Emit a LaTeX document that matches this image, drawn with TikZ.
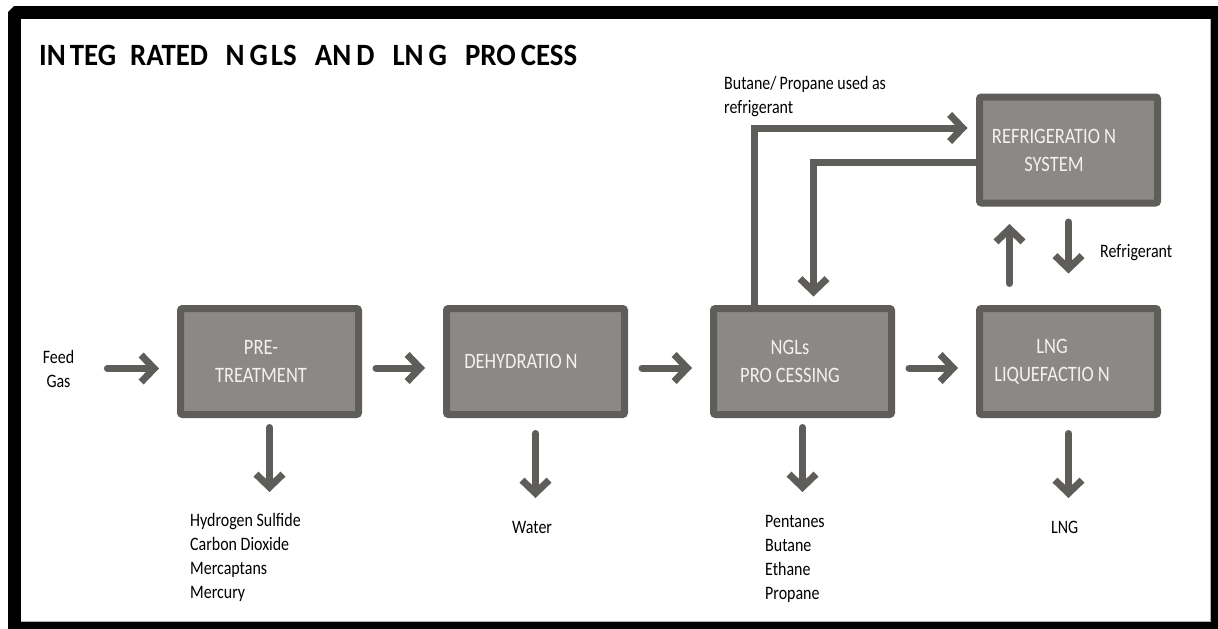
\documentclass[tikz,border=0pt]{standalone}
\usepackage{fontspec}
\setmainfont{Carlito}
\newfontfamily\bodyfont[FakeStretch=0.84]{Carlito}
\newfontfamily\ttlfont[FakeStretch=0.93]{Carlito}
\usetikzlibrary{arrows.meta}
\definecolor{boxfill}{RGB}{139,136,134}
\definecolor{boxline}{RGB}{94,93,89}
\definecolor{boxtext}{RGB}{242,242,242}
\newcommand\gp{\kern4pt}
\begin{document}
\begin{tikzpicture}[x=1pt,y=-1pt,
  stage/.style={draw=boxline, fill=boxfill, line width=7pt, rounded corners=2pt,
    minimum width=178pt, minimum height=106pt, inner sep=0pt},
  stagetxt/.style={text=boxtext, font=\bodyfont\fontsize{22}{28}\selectfont, align=center, inner sep=0pt},
  lab/.style={font=\bodyfont\fontsize{19}{24}\selectfont, align=left, inner sep=0pt, text=black},
  arr/.style={draw=boxline, line width=7pt, line cap=round, -{Straight Barb[length=13pt,width=27pt]}},
]
\useasboundingbox (0,0) rectangle (1218,629);
% frame
\fill[black] (8,12) -- (14,6) -- (1218,6) -- (1218,629) -- (8,629) -- cycle;
\fill[white] (21,19) rectangle (1210,621);
\draw[gray!60, line width=1pt] (1210,19) -- (1210,621) -- (21,621);

% title
\node[anchor=base west, inner sep=0pt, font=\ttlfont\bfseries\fontsize{31}{36}\selectfont] (title) at (39,65)
  {IN\kern4pt TEG\kern14pt RATED \kern11pt N\kern5pt G\kern3pt LS \kern11.5pt AN\kern5pt D \kern11.5pt LN\kern5pt G \kern11.5pt PRO\kern5pt CESS};

% stages
\node[stage, label={[stagetxt, xshift=-8.5pt]center:PRE-\\TREATMENT}] (pre) at (269.5,361.5) {};
\node[stage, label={[stagetxt, xshift=-14.5pt]center:DEHYDRATIO\gp N}] (deh) at (535.5,361.5) {};
\node[stage, label={[stagetxt, xshift=-12.5pt]center:NGLs\\PRO\gp CESSING}] (ngl) at (802.5,361.5) {};
\node[stage, label={[stagetxt, xshift=-16.5pt]center:LNG\\LIQUEFACTIO\gp N}] (lng) at (1068.5,361.5) {};
\node[stage, label={[stagetxt, xshift=-14.5pt]center:REFRIGERATIO\gp N\\SYSTEM}] (ref) at (1068.5,150) {};

% labels
\node[lab, align=center] (feed) at (58.5,368.5) {Feed\\Gas};
\node[lab, anchor=north west] (hs) at (190,513.5) {Hydrogen Sulfide\\Carbon Dioxide\\Mercaptans\\Mercury};
\node[lab, anchor=north west] (water) at (512,521) {Water};
\node[lab, anchor=north west] (pent) at (765,515) {Pentanes\\Butane\\Ethane\\Propane};
\node[lab, anchor=north west] (lngout) at (1051,521) {LNG};
\node[lab, anchor=north west] (but) at (724,76) {Butane/\kern3pt Propane used as\\refrigerant};
\node[lab, anchor=base west] (refl) at (1100,257) {Refrigerant};

% main flow
\draw[arr, shorten <=33pt, shorten >=18pt] (feed.east) -- (feed.east -| pre.west);
\draw[arr, shorten <=14pt, shorten >=18pt] ([yshift=-6.5pt]pre.east) -- ([yshift=-6.5pt]deh.west);
\draw[arr, shorten <=14pt, shorten >=18pt] ([yshift=-6.5pt]deh.east) -- ([yshift=-6.5pt]ngl.west);
\draw[arr, shorten <=14pt, shorten >=18pt] ([yshift=-6.5pt]ngl.east) -- ([yshift=-6.5pt]lng.west);

% outputs
\draw[arr, shorten <=9.5pt, shorten >=21.5pt] (pre.south) -- (pre.south |- hs.north);
\draw[arr, shorten <=15.5pt, shorten >=23pt] (deh.south) -- (deh.south |- water.north);
\draw[arr, shorten <=9.5pt, shorten >=23pt] (ngl.south) -- (ngl.south |- pent.north);
\draw[arr, shorten <=15.5pt, shorten >=23pt] (lng.south) -- (lng.south |- lngout.north);

% refrigeration loop
\draw[arr, line cap=butt, shorten >=8.5pt] ([xshift=44.5pt]ngl.north west) |- ([yshift=22pt]ref.west);
\draw[arr, line cap=butt, shorten >=8.5pt] ([yshift=-12pt]ref.west) -| ([xshift=103.5pt]ngl.north west);
\draw[arr, shorten <=21.5pt, shorten >=17.5pt] ([xshift=33.5pt]lng.north west) -- ([xshift=33.5pt]lng.north west |- ref.south);
\draw[arr, shorten <=15.5pt, shorten >=31.5pt] (ref.south) -- (lng.north);
\end{tikzpicture}
\end{document}
